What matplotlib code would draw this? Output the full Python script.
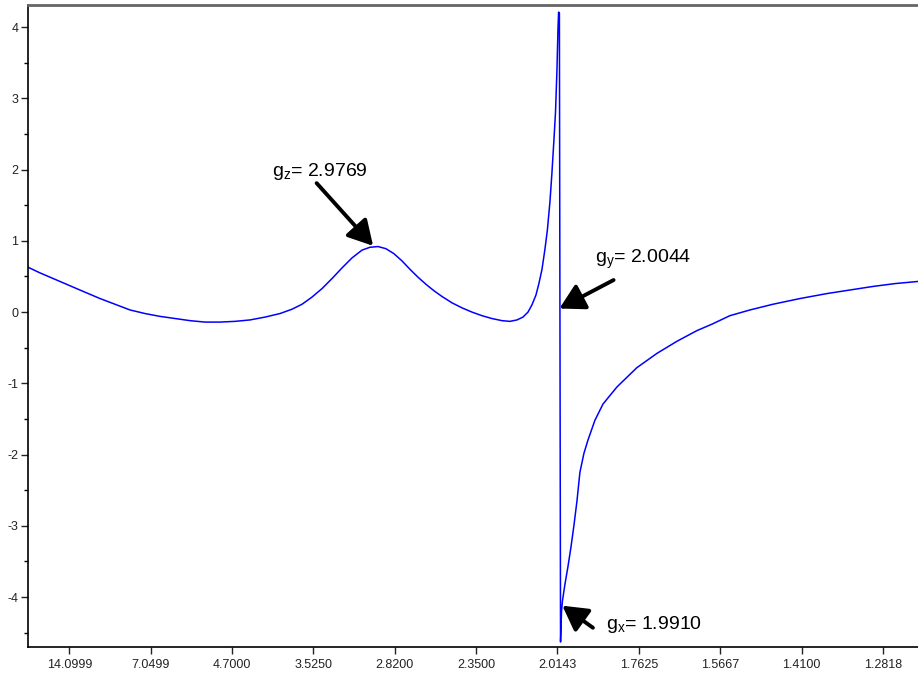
import matplotlib
matplotlib.use("Agg")
import matplotlib.pyplot as plt
import numpy as np

plt.rcParams['font.family'] = ['Liberation Sans', 'DejaVu Sans']
plt.rcParams['mathtext.default'] = 'regular'
plt.rcParams['axes.unicode_minus'] = False

# magnetic field (G) and EPR derivative intensity
field = [246, 320, 412, 504, 596, 689, 781, 873, 965, 1057, 1150, 1242,
         1334, 1426, 1518, 1610, 1703, 1795, 1868, 1930, 1991, 2053, 2114,
         2176, 2237, 2299, 2348, 2397, 2446, 2495, 2544, 2594, 2643, 2692,
         2741, 2790, 2852, 2913, 2975, 3036, 3097, 3159, 3208, 3251, 3288,
         3319, 3343, 3368, 3386, 3405, 3423, 3438, 3454, 3466, 3478, 3488,
         3497, 3503, 3507, 3512, 3519, 3525, 3531, 3546, 3564, 3583, 3601,
         3620, 3638, 3663, 3687, 3730, 3780, 3866, 3988, 4111, 4234, 4357,
         4449, 4560, 4683, 4824, 4990, 5156, 5297, 5439, 5574, 5715]
signal = [0.63, 0.55, 0.46, 0.37, 0.28, 0.19, 0.11, 0.03, -0.02, -0.06,
          -0.09, -0.12, -0.14, -0.14, -0.13, -0.11, -0.07, -0.02, 0.04,
          0.11, 0.21, 0.33, 0.47, 0.62, 0.76, 0.87, 0.91, 0.92, 0.89, 0.82,
          0.72, 0.60, 0.49, 0.39, 0.30, 0.22, 0.13, 0.06, 0.00, -0.05,
          -0.09, -0.12, -0.13, -0.11, -0.07, 0.00, 0.10, 0.24, 0.40, 0.60,
          0.88, 1.15, 1.55, 1.95, 2.40, 2.80, 3.40, 3.95, 4.21, 4.20, -4.63,
          -4.20, -4.05, -3.82, -3.58, -3.30, -3.00, -2.65, -2.25, -1.98,
          -1.80, -1.52, -1.29, -1.05, -0.78, -0.58, -0.41, -0.26, -0.17,
          -0.05, 0.03, 0.11, 0.19, 0.26, 0.31, 0.36, 0.40, 0.43]

tick_field = [500, 1000, 1500, 2000, 2500, 3000, 3500, 4000, 4500, 5000, 5500]
tick_labels = ["14.0999", "7.0499", "4.7000", "3.5250", "2.8200", "2.3500",
               "2.0143", "1.7625", "1.5667", "1.4100", "1.2818"]

ann_text = [r"g$_{z}$= 2.9769", r"g$_{y}$= 2.0044", r"g$_{x}$= 1.9910"]
ann_tip = [(2367, 0.93), (3512, 0.05), (3530, -4.12)]
ann_tail = [(2020, 1.81), (3845, 0.45), (3718, -4.43)]
ann_textpos = [(1745, 1.91), (3730, 0.69), (3798, -4.45)]

fig = plt.figure(figsize=(9.18, 6.78), dpi=100)
ax = fig.add_axes([28/918, 31/678, 1 - 28/918, (647-5)/678])

ax.plot(field, signal, color='#0000FF', lw=1.1)

ax.set_xlim(246, 5716)
ax.set_ylim(-4.70, 4.31)
ax.set_xticks(tick_field)
ax.set_xticklabels(tick_labels)
ax.set_yticks([-4, -3, -2, -1, 0, 1, 2, 3, 4])
ax.set_yticks(np.arange(-4.5, 4.3, 0.5), minor=True)
ax.tick_params(axis='both', which='major', labelsize=9, length=5, width=1,
               colors='#222222', direction='out')
ax.tick_params(axis='y', which='minor', length=3, width=1)
ax.tick_params(axis='x', pad=4)
ax.tick_params(axis='y', pad=2)

for s in ['left', 'bottom']:
    ax.spines[s].set_linewidth(1.2)
    ax.spines[s].set_color('black')
ax.spines['top'].set_color('#666666')
ax.spines['top'].set_linewidth(2.0)
ax.spines['right'].set_visible(False)

for txt, tip, tail, tp in zip(ann_text, ann_tip, ann_tail, ann_textpos):
    ax.annotate('', xy=tip, xytext=tail,
                arrowprops=dict(arrowstyle='-|>,head_length=0.75,head_width=0.42',
                                color='black', lw=2.8, shrinkA=0, shrinkB=0,
                                mutation_scale=20))
    ax.text(tp[0], tp[1], txt, fontsize=14, color='black',
            ha='left', va='baseline')

fig.savefig('out.png', dpi=100)
